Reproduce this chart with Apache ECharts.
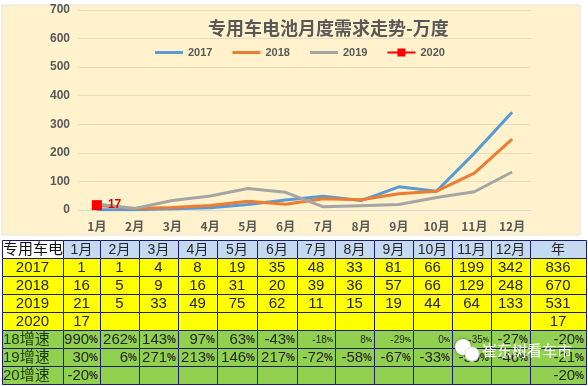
<!DOCTYPE html>
<html>
<head>
<meta charset="utf-8">
<script src="https://cdn.jsdelivr.net/npm/echarts@6/dist/echarts.min.js"></script>
<style>
  html, body { margin: 0; padding: 0; background: #fff; }
  #main { width: 588px; height: 386px; }
</style>
</head>
<body>
<div id="main"></div>
<script>
// data
const months = ['1月', '2月', '3月', '4月', '5月', '6月', '7月', '8月', '9月', '10月', '11月', '12月'];
const y2017 = [1, 1, 4, 8, 19, 35, 48, 33, 81, 66, 199, 342];
const y2018 = [16, 5, 9, 16, 31, 20, 39, 36, 57, 66, 129, 248];
const y2019 = [21, 5, 33, 49, 75, 62, 11, 15, 19, 44, 64, 133];
const y2020 = [17];
const totals = { '2017': 836, '2018': 670, '2019': 531, '2020': 17 };
const g18 = ['990%', '262%', '143%', '97%', '63%', '-43%', '-18%', '8%', '-29%', '0%', '-35%', '-27%', '-20%'];
const g19 = ['30%', '6%', '271%', '213%', '146%', '217%', '-72%', '-58%', '-67%', '-33%', '-50%', '-46%', '-21%'];
const g20 = ['-20%', '', '', '', '', '', '', '', '', '', '', '', '-20%'];
const yTicks = [0, 100, 200, 300, 400, 500, 600, 700];

const title = '专用车电池月度需求走势-万度';
const firstHeader = '专用车电池';
const yearHeader = '年';

var myChart = echarts.init(document.getElementById('main'));

const axisGray = '#595959';
const cjk = '"Liberation Sans", "Noto Sans CJK SC", sans-serif';

// ---- table under the chart ----
const colX = [2, 63, 100, 139, 178, 217, 257, 297, 335, 374, 413, 452, 491, 530, 586];
const rowTop = 240;
const rowH = 18;
const border = '#1c1c6a';
const yellow = '#FFFF00';
const green = '#92D050';
const headBlue = '#C5D9F1';

let elements = [];

// chart background box
elements.push({
  type: 'rect', z: -10,
  shape: { x: 2, y: 5, width: 578, height: 230 },
  style: { fill: '#FFF2CC', stroke: '#E3E3E3', lineWidth: 1 }
});

function cell(c, r, fill) {
  let x = colX[c], w = colX[c + 1] - colX[c];
  let y = rowTop + r * rowH;
  elements.push({
    type: 'rect', z: 10,
    shape: { x: x + 0.5, y: y + 0.5, width: w, height: rowH },
    style: { fill: fill, stroke: border, lineWidth: 1 }
  });
}

function txt(x, y, text, align, size, extra, z) {
  let st = {
    text: text, x: x, y: y,
    font: size + 'px ' + cjk,
    fill: '#262626', align: align, verticalAlign: 'middle'
  };
  if (extra) Object.assign(st, extra);
  elements.push({ type: 'text', z: z || 12, style: st });
}

// header row: the first header text runs under the month cells, like the sheet
elements.push({
  type: 'rect', z: 8,
  shape: { x: colX[0] + 0.5, y: rowTop + 0.5, width: colX[1] - colX[0], height: rowH },
  style: { fill: '#fff', stroke: border, lineWidth: 1 }
});
txt(3, rowTop + rowH / 2 + 1, firstHeader, 'left', 15, { fill: '#111' }, 9);
let heads = months.concat([yearHeader]);
heads.forEach((h, i) => {
  cell(i + 1, 0, headBlue);
  txt((colX[i + 1] + colX[i + 2]) / 2, rowTop + rowH / 2 + 1, h, 'center', 14);
});

// value rows
let valueRows = [
  ['2017', y2017], ['2018', y2018], ['2019', y2019], ['2020', y2020]
];
valueRows.forEach((row, r) => {
  let ry = rowTop + (r + 1) * rowH + rowH / 2 + 1;
  cell(0, r + 1, yellow);
  txt((colX[0] + colX[1]) / 2, ry, row[0], 'center', 15);
  for (let i = 0; i < 13; i++) {
    cell(i + 1, r + 1, yellow);
    let v = i < 12 ? row[1][i] : totals[row[0]];
    if (v === undefined) continue;
    txt((colX[i + 1] + colX[i + 2]) / 2, ry, String(v), 'center', 15);
  }
});

// growth rows
let growthRows = [['18增速', g18], ['19增速', g19], ['20增速', g20]];
growthRows.forEach((row, k) => {
  let r = k + 5;
  let ry = rowTop + r * rowH + rowH / 2 + 1;
  cell(0, r, green);
  txt(3, ry, row[0], 'left', 15, { fill: '#1d3a10' });
  row[1].forEach((s, i) => {
    cell(i + 1, r, green);
    if (!s) return;
    let num = s.replace('%', '');
    // a few cells in the source use a smaller font
    let small = (k == 0 && i >= 6 && i <= 10);
    elements.push({
      type: 'text', z: 12,
      style: {
        text: '{n|' + num + '}{p|%}',
        x: colX[i + 2] - 2, y: ry,
        align: 'right', verticalAlign: 'middle',
        rich: {
          n: { fontSize: small ? 10 : 15, fontFamily: 'Liberation Sans', fill: '#262626' },
          p: { fontSize: small ? 7 : 10, fontFamily: 'Liberation Sans', fill: '#262626', fontWeight: 'bold' }
        }
      }
    });
  });
});

// watermark
elements.push({ type: 'circle', z: 20, shape: { cx: 463, cy: 347, r: 8 }, style: { fill: '#fff', shadowBlur: 3, shadowColor: 'rgba(0,0,0,0.5)' } });
elements.push({ type: 'circle', z: 21, shape: { cx: 472, cy: 354, r: 7 }, style: { fill: '#fff', stroke: '#ddd', lineWidth: 1 } });
elements.push({
  type: 'text', z: 22,
  style: {
    text: '崔东树看车市', x: 482, y: 350,
    font: '15px "Noto Sans CJK SC"', fill: '#fff', align: 'left', verticalAlign: 'middle',
    shadowBlur: 3, shadowColor: 'rgba(0,0,0,0.8)'
  }
});

const lineIcon = 'path://M0,3.5 L28,3.5 L28,6.5 L0,6.5 Z';
const rectIcon = 'path://M0,3 L28,3 L28,5 L0,5 Z M10,0 L18,0 L18,8 L10,8 Z';

let option = {
  backgroundColor: '#fff',
  animation: false,
  title: {
    text: title,
    left: 203, top: 14,
    textStyle: { fontSize: 18, fontWeight: 'bold', color: axisGray, fontFamily: 'Noto Sans CJK SC' }
  },
  legend: {
    left: 150, top: 42,
    itemWidth: 28, itemHeight: 10, itemGap: 20,
    textStyle: { fontSize: 11, fontWeight: 'bold', color: axisGray, fontFamily: 'Liberation Sans' },
    data: [
      { name: '2017', icon: lineIcon },
      { name: '2018', icon: lineIcon },
      { name: '2019', icon: lineIcon },
      { name: '2020', icon: rectIcon }
    ]
  },
  grid: { left: 78, right: 57, top: 10, bottom: 176 },
  xAxis: {
    type: 'category',
    data: months,
    boundaryGap: true,
    axisLine: { lineStyle: { color: '#D9D9D9' } },
    axisTick: { show: false },
    axisLabel: { color: axisGray, fontSize: 12, fontWeight: 'bold', margin: 10, interval: 0, fontFamily: 'Noto Sans CJK SC' }
  },
  yAxis: {
    type: 'value',
    min: yTicks[0], max: yTicks[yTicks.length - 1], interval: 100,
    axisLine: { show: false },
    axisTick: { show: false },
    splitLine: { lineStyle: { color: '#E8DCBC' } },
    axisLabel: { color: axisGray, fontSize: 12, fontWeight: 'bold', margin: 8, fontFamily: 'Liberation Sans' }
  },
  series: [
    { name: '2017', type: 'line', data: y2017, symbol: 'none', lineStyle: { width: 3, color: '#5B9BD5' }, itemStyle: { color: '#5B9BD5' } },
    { name: '2018', type: 'line', data: y2018, symbol: 'none', lineStyle: { width: 3, color: '#ED7D31' }, itemStyle: { color: '#ED7D31' } },
    { name: '2019', type: 'line', data: y2019, symbol: 'none', lineStyle: { width: 3, color: '#A5A5A5' }, itemStyle: { color: '#A5A5A5' } },
    {
      name: '2020', type: 'line', data: y2020,
      symbol: 'rect', symbolSize: 10,
      lineStyle: { width: 3, color: '#FF0000' }, itemStyle: { color: '#FF0000' },
      label: { show: true, position: 'right', distance: 6, color: '#E00000', fontSize: 12, fontWeight: 'bold' }
    }
  ],
  graphic: { elements: elements }
};

myChart.setOption(option);
</script>
</body>
</html>
